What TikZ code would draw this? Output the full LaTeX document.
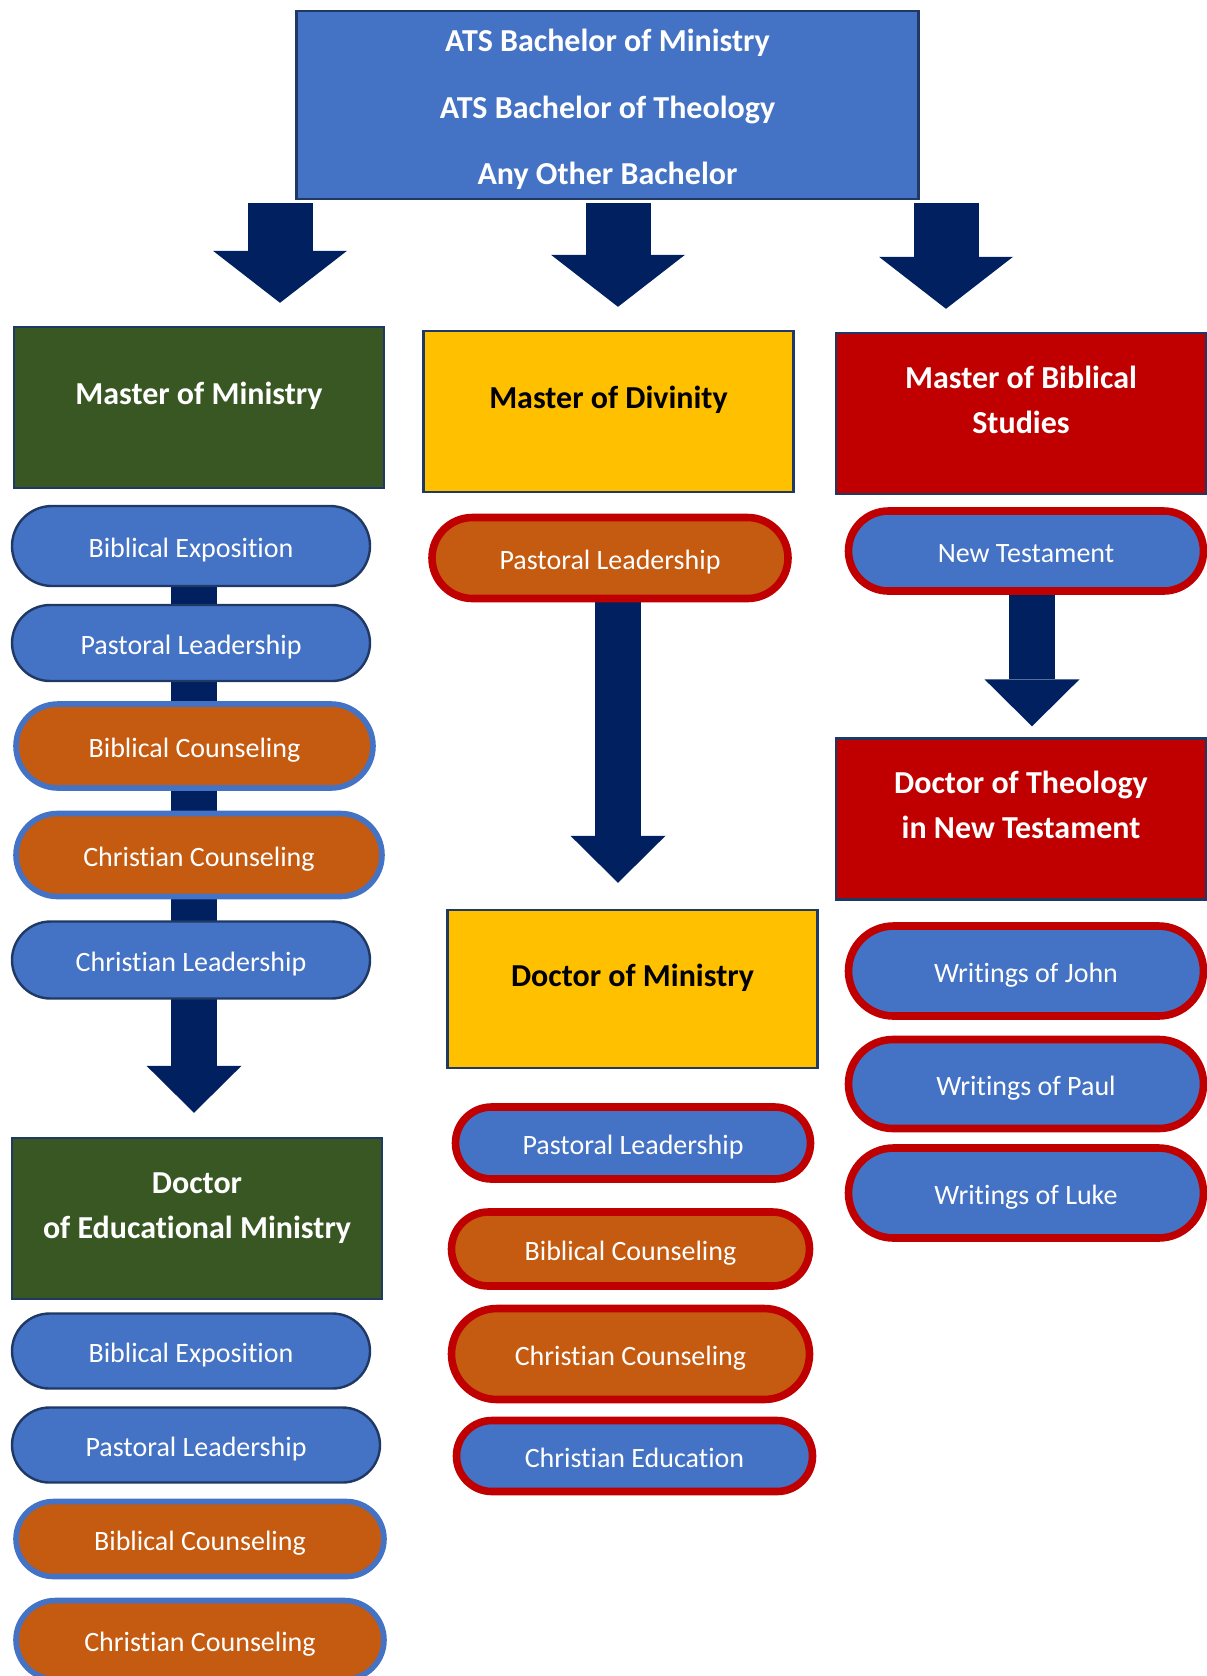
\documentclass[tikz,border=0pt]{standalone}
\usepackage{fontspec}
\setmainfont{Carlito}[Ligatures=NoCommon]
\usetikzlibrary{arrows.meta,positioning,shapes.misc,backgrounds}

\definecolor{degblue}{HTML}{4472C4}
\definecolor{deggreen}{HTML}{385723}
\definecolor{deggold}{HTML}{FFC000}
\definecolor{degred}{HTML}{C00000}
\definecolor{degorange}{HTML}{C55A11}
\definecolor{degnavy}{HTML}{002060}
\definecolor{edgenavy}{HTML}{1F3864}

\newcommand{\boxtext}[2][11.6pt]{\begin{tabular}{@{}c@{}}#2\\[#1]\end{tabular}}

\begin{document}
\begin{tikzpicture}[
  x=0.5pt, y=-0.5pt,
  degree/.style={rectangle, draw=edgenavy, line width=1.2pt, minimum width=185pt, minimum height=80.5pt, inner sep=0pt, text=white, font=\fontsize{16}{22.5}\selectfont\bfseries},
  track/.style={rounded rectangle, draw=edgenavy, line width=1.2pt, fill=degblue, text=white, minimum width=179pt, minimum height=38pt, inner sep=0pt, text height=12.5pt, text depth=1pt, font=\fontsize{14}{17}\selectfont},
  counsel/.style={fill=degorange, draw=degblue, line width=2.8pt},
  rededge/.style={draw=degred, line width=3.8pt},
  bigarrow/.style={draw=degnavy, line width=32.5pt, shorten <=1.5pt, shorten >=11.5pt, -{Triangle[width=67pt,length=26pt,line width=0pt]}},
  shaft/.style={draw=degnavy, line width=23pt, -{Triangle[width=47.5pt,length=23.5pt,line width=0pt]}}
]
\useasboundingbox (0,0) rectangle (1206,1676);

% entry and degree boxes
\node[degree, fill=degblue, minimum width=311pt, minimum height=94pt] (bach) at (607.5,105)
  {\boxtext[-4.3pt]{ATS Bachelor of Ministry\\[10.75pt]ATS Bachelor of Theology\\[10.75pt]Any Other Bachelor}};
\node[degree, fill=deggreen] (mmin) at (199,407.5) {\boxtext{Master of Ministry}};
\node[degree, fill=deggold, text=black] (mdiv) at (608.5,411.5) {\boxtext{Master of Divinity}};
\node[degree, fill=degred] (mbs) at (1021,413.5) {\boxtext{Master of Biblical\\Studies}};
\node[degree, fill=degred] (thd) at (1021,819) {\boxtext{Doctor of Theology\\in New Testament}};
\node[degree, fill=deggold, text=black, minimum height=79pt] (dmin) at (632.5,989) {\boxtext{Doctor of Ministry}};
\node[degree, fill=deggreen] (dedmin) at (197,1218.5) {\boxtext{Doctor\\of Educational Ministry}};

% master of ministry tracks
\node[track, minimum height=40pt] (mm1) at (191,546) {Biblical Exposition};
\node[track] (mm2) at (191,643) {Pastoral Leadership};
\node[track, counsel, minimum width=178.5pt, minimum height=42pt] (mm3) at (194.5,746) {Biblical Counseling};
\node[track, counsel, minimum width=183pt, minimum height=41.5pt] (mm4) at (199,855) {Christian Counseling};
\node[track, minimum height=38.5pt] (mm5) at (191,960) {Christian Leadership};

% doctor of educational ministry tracks
\node[track, minimum height=37.5pt] (de1) at (191,1351) {Biblical Exposition};
\node[track, minimum width=184pt, minimum height=37.5pt] (de2) at (196,1445) {Pastoral Leadership};
\node[track, counsel, minimum width=184pt, minimum height=37.5pt] (de3) at (200,1539) {Biblical Counseling};
\node[track, counsel, minimum width=184pt, minimum height=39.5pt] (de4) at (200,1640) {Christian Counseling};

% divinity and doctor of ministry tracks
\node[track, counsel, rededge, minimum width=178pt, minimum height=40.5pt] (md1) at (610,558) {Pastoral Leadership};
\node[track, rededge, minimum width=177.5pt, minimum height=36pt] (dm1) at (633,1143) {Pastoral Leadership};
\node[track, counsel, rededge, minimum height=37pt] (dm2) at (630.5,1249) {Biblical Counseling};
\node[track, counsel, rededge, minimum height=45.5pt] (dm3) at (630.5,1354) {Christian Counseling};
\node[track, rededge, minimum width=178pt, minimum height=35.5pt] (dm4) at (634.5,1456) {Christian Education};

% biblical studies tracks
\node[track, rededge, minimum width=177.5pt, minimum height=40pt] (nt) at (1026,551) {New Testament};
\node[track, rededge, minimum width=177.5pt, minimum height=45pt] (wj) at (1026,971) {Writings of John};
\node[track, rededge, minimum width=177.5pt, minimum height=44.5pt] (wp) at (1026,1084) {Writings of Paul};
\node[track, rededge, minimum width=177.5pt, minimum height=45pt] (wl) at (1026,1193) {Writings of Luke};

% arrow lanes
\coordinate (lane1) at (280,0);
\coordinate (lane2) at (618,0);
\coordinate (lane3) at (946,0);
\coordinate (laneL) at (194,0);
\coordinate (laneR) at (1032,0);

\begin{scope}[on background layer]
\draw[bigarrow] (bach.south -| lane1) -- (mmin.north -| lane1);
\draw[bigarrow] (bach.south -| lane2) -- (mdiv.north -| lane2);
\draw[bigarrow] (bach.south -| lane3) -- (mbs.north -| lane3);
\draw[shaft, shorten >=12pt] (mm1 -| laneL) -- (dedmin.north -| laneL);
\draw[shaft, shorten >=13pt] (md1 -| lane2) -- (dmin.north -| lane2);
\draw[shaft, shorten >=5.5pt] (nt -| laneR) -- (thd.north -| laneR);
\end{scope}

\end{tikzpicture}
\end{document}
